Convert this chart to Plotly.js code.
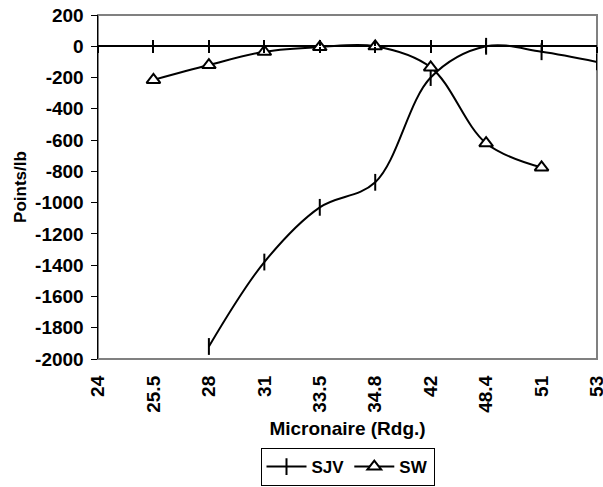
<!DOCTYPE html>
<html><head><meta charset="utf-8">
<script src="https://cdn.plot.ly/plotly-3.0.1.min.js"></script>
<style>html,body{margin:0;padding:0;background:#fff}</style>
</head><body>
<div id="chart" style="width:603px;height:487px"></div>
<script>
const categories = ["24","25.5","28","31","33.5","34.8","42","48.4","51","53"];
const sjv = [null, null, -1920, -1380, -1030, -870, -200, 0, -35, -100];
const sw  = [null, -215, -120, -35, -5, 0, -135, -620, -775, null];
const yTickVals = [200,0,-200,-400,-600,-800,-1000,-1200,-1400,-1600,-1800,-2000];
const yTickText = ["200","0","-200","-400","-600","-800","-1000","-1200","-1400","-1600","-1800","-2000"];
const yMin = -2000, yMax = 200;

const fam = "Liberation Sans, Arial, sans-serif";
const font = {family: fam, size: 19, color: "#000", weight: "bold"};
const zeroPos = (0 - yMin) / (yMax - yMin);

const traces = [
  {x: categories, y: sjv, name: "SJV", type: "scatter", mode: "lines+markers",
   line: {color: "#000", width: 2, shape: "spline", smoothing: 1},
   marker: {symbol: "line-ns", size: 12, color: "#000", line: {color: "#000", width: 2}}},
  {x: categories, y: sw, name: "SW", type: "scatter", mode: "lines+markers",
   line: {color: "#000", width: 2, shape: "spline", smoothing: 1},
   marker: {symbol: "triangle-up", size: 12, color: "#fff", line: {color: "#000", width: 2}}},
  {x: categories.map((c, i) => i), y: categories.map(() => 0), xaxis: "x2", yaxis: "y",
   mode: "lines", line: {width: 0}, showlegend: false, hoverinfo: "skip"},
  {x: categories.map((c, i) => i), y: categories.map(() => 0), xaxis: "x3", yaxis: "y",
   mode: "lines", line: {width: 0}, showlegend: false, hoverinfo: "skip"}
];

const layout = {
  width: 603, height: 487,
  margin: {l: 98, r: 6, t: 15, b: 128},
  paper_bgcolor: "#fff", plot_bgcolor: "#fff",
  font: font,
  showlegend: true,
  xaxis: {
    type: "category", categoryorder: "array", categoryarray: categories,
    range: [0, categories.length - 1], automargin: false,
    tickangle: -90, tickfont: font, ticks: "", ticklabelstandoff: 12,
    showgrid: false, zeroline: false, showline: false,
    title: {text: "Micronaire (Rdg.)", font: {family: fam, size: 19, color: "#000", weight: "bold"}, standoff: 9}
  },
  xaxis2: {
    overlaying: "x", anchor: "free", position: zeroPos, automargin: false,
    range: [0, categories.length - 1], tick0: 0, dtick: 1,
    ticks: "outside", ticklen: 6, tickwidth: 2, tickcolor: "#000",
    showticklabels: false, showgrid: false, zeroline: false, showline: false
  },
  xaxis3: {
    overlaying: "x", anchor: "free", position: zeroPos, automargin: false,
    range: [0, categories.length - 1], tick0: 0, dtick: 1,
    ticks: "inside", ticklen: 6, tickwidth: 2, tickcolor: "#000",
    showticklabels: false, showgrid: false, zeroline: false, showline: false
  },
  yaxis: {
    range: [yMin, yMax], tickvals: yTickVals, ticktext: yTickText, automargin: false,
    ticks: "outside", ticklen: 6, tickwidth: 1, tickcolor: "#000", ticklabelstandoff: 3,
    showline: true, linecolor: "#000", linewidth: 1.5,
    showgrid: false, zeroline: true, zerolinecolor: "#000", zerolinewidth: 2,
    tickfont: font,
    title: {text: "Points/lb", font: {family: fam, size: 17, color: "#000", weight: "bold"}, standoff: 4}
  },
  shapes: [
    {type: "rect", xref: "x domain", yref: "y domain", x0: 0, x1: 1, y0: 0, y1: 1,
     line: {color: "#808080", width: 2}, layer: "below"}
  ],
  legend: {
    orientation: "h", xref: "paper", x: 0.5, xanchor: "center",
    yref: "container", y: 0.08, yanchor: "top",
    bordercolor: "#000", borderwidth: 1, font: {family: fam, size: 17, color: "#000", weight: "bold"},
    itemwidth: 40, traceorder: "normal", tracegroupgap: 0
  }
};

Plotly.newPlot("chart", traces, layout, {displayModeBar: false, staticPlot: true});
</script>
</body></html>
